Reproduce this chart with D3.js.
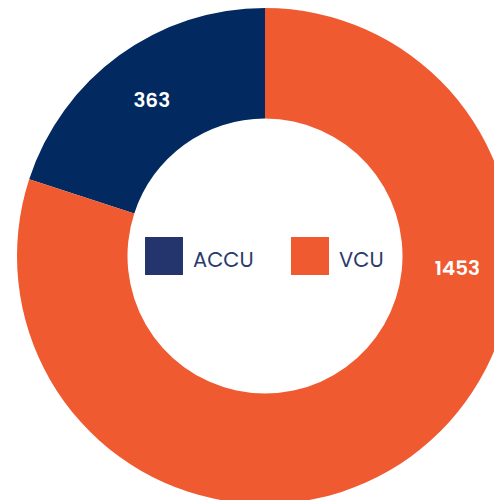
<!DOCTYPE html>
<html>
<head>
<meta charset="utf-8">
<script src="https://cdn.jsdelivr.net/npm/d3@7"></script>
<style>
  body { margin: 0; background: #fff; }
  svg { display: block; }
</style>
</head>
<body>
<div id="chart"></div>
<script>
// chart data
const categories = ['ACCU', 'VCU'];
const values = [363, 1453];
const sliceColors = ['#022a60', '#f05a30'];
const legendColors = ['#24356e', '#f05a30'];

const width = 494, height = 500;
const cx = 265, cy = 256;
const outerR = 248, innerR = 137.5;

const svg = d3.select('#chart').append('svg')
    .attr('width', width)
    .attr('height', height);

const g = svg.append('g').attr('transform', `translate(${cx},${cy})`);

const data = categories.map((c, i) => ({ name: c, value: values[i] }));

// default sort puts the larger slice first, starting at 12 o'clock
const pie = d3.pie().value(d => d.value);
const arc = d3.arc().innerRadius(innerR).outerRadius(outerR);
const arcs = pie(data);

g.selectAll('path')
    .data(arcs)
    .enter()
    .append('path')
    .attr('d', arc)
    .attr('fill', d => sliceColors[categories.indexOf(d.data.name)]);

// value labels, the big one is pulled into the visible part of the ring
function labelPos(d) {
    if (d.data.name === 'VCU') {
        const a = Math.PI * 0.52;
        return arc.centroid({ startAngle: a, endAngle: a });
    }
    return arc.centroid(d);
}

g.selectAll('text.val')
    .data(arcs)
    .enter()
    .append('text')
    .attr('class', 'val')
    .attr('x', d => labelPos(d)[0])
    .attr('y', d => labelPos(d)[1])
    .attr('text-anchor', 'middle')
    .attr('dominant-baseline', 'central')
    .attr('fill', '#fff')
    .attr('font-family', 'Poppins, "Open Sans", sans-serif')
    .attr('font-weight', 600)
    .attr('font-size', 20)
    .text(d => d.data.value);

// legend in the hole
const legend = svg.append('g').attr('transform', 'translate(145,237)');
const item = legend.selectAll('g')
    .data(categories)
    .enter()
    .append('g')
    .attr('transform', (d, i) => `translate(${i * 146},0)`);

item.append('rect')
    .attr('width', 38)
    .attr('height', 38)
    .attr('fill', (d, i) => legendColors[i]);

item.append('text')
    .attr('x', 48)
    .attr('y', 30)
    .attr('fill', '#2a3a6e')
    .attr('font-family', 'Poppins, "Open Sans", sans-serif')
    .attr('font-size', 21)
    .text(d => d);
</script>
</body>
</html>
